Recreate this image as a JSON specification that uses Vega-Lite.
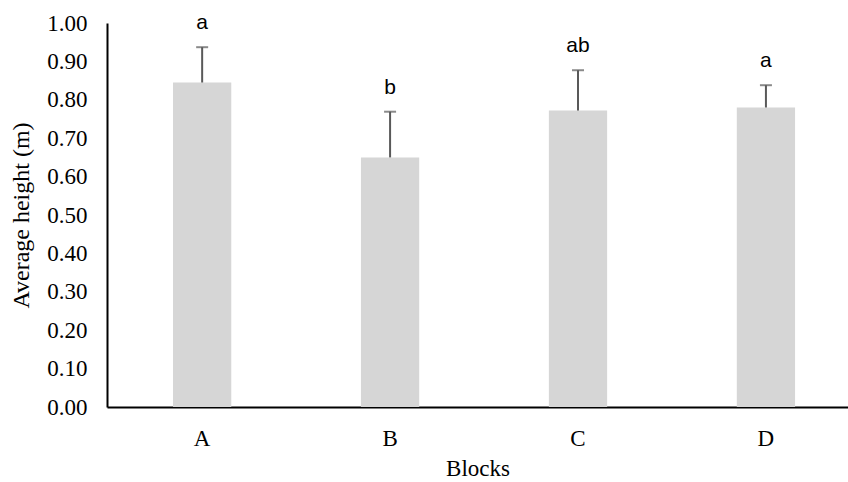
{
  "$schema": "https://vega.github.io/schema/vega-lite/v6.json",
  "autosize": {"type": "none"},
  "padding": {"left": 107, "top": 23, "right": 0, "bottom": 75},
  "width": 741,
  "height": 384,
  "background": "white",
  "config": {
    "view": {"stroke": null},
    "axisY": {
      "grid": false, "ticks": false, "domainColor": "#000000", "domainWidth": 2,
      "labelOverlap": false, "labelFlush": false, "labelBound": false,
      "labelFont": "Liberation Serif", "labelFontSize": 23, "labelColor": "#000000", "labelPadding": 20,
      "titleFont": "Liberation Serif", "titleFontSize": 24, "titleFontWeight": "normal", "titleColor": "#000000", "titlePadding": 13
    }
  },
  "data": {"values": [
    {"block": "A", "height": 0.845, "upper": 0.937, "letter": "a"},
    {"block": "B", "height": 0.650, "upper": 0.769, "letter": "b"},
    {"block": "C", "height": 0.772, "upper": 0.877, "letter": "ab"},
    {"block": "D", "height": 0.780, "upper": 0.838, "letter": "a"}
  ]},
  "encoding": {
    "x": {
      "field": "block", "type": "nominal",
      "scale": {"paddingInner": 0.69, "paddingOuter": 0.3165, "align": 0.555},
      "axis": {
        "title": "Blocks", "labelAngle": 0, "ticks": false, "domainColor": "#000000", "domainWidth": 2,
        "labelFont": "Liberation Serif", "labelFontSize": 23, "labelColor": "#000000", "labelPadding": 20,
        "titleFont": "Liberation Serif", "titleFontSize": 23, "titleFontWeight": "normal", "titleColor": "#000000", "titlePadding": 7
      }
    }
  },
  "layer": [
    {
      "mark": {"type": "bar", "color": "#d6d6d6"},
      "encoding": {
        "y": {
          "field": "height", "type": "quantitative",
          "scale": {"domain": [0, 1], "nice": false},
          "axis": {"title": "Average height (m)", "values": [0, 0.1, 0.2, 0.3, 0.4, 0.5, 0.6, 0.7, 0.8, 0.9, 1.0], "format": ".2f", "labelOverlap": false}
        }
      }
    },
    {
      "mark": {"type": "rule", "color": "#595959", "strokeWidth": 2},
      "encoding": {
        "y": {"field": "height", "type": "quantitative",
          "axis": {"title": "Average height (m)", "values": [0, 0.1, 0.2, 0.3, 0.4, 0.5, 0.6, 0.7, 0.8, 0.9, 1.0], "format": ".2f", "labelOverlap": false}},
        "y2": {"field": "upper"}
      }
    },
    {
      "mark": {"type": "tick", "color": "#595959", "thickness": 2, "size": 12},
      "encoding": {
        "y": {"field": "upper", "type": "quantitative",
          "axis": {"title": "Average height (m)", "values": [0, 0.1, 0.2, 0.3, 0.4, 0.5, 0.6, 0.7, 0.8, 0.9, 1.0], "format": ".2f", "labelOverlap": false}}
      }
    },
    {
      "mark": {"type": "text", "font": "Liberation Sans", "fontSize": 21, "color": "#000000", "baseline": "alphabetic", "dy": -18},
      "encoding": {
        "y": {"field": "upper", "type": "quantitative",
          "axis": {"title": "Average height (m)", "values": [0, 0.1, 0.2, 0.3, 0.4, 0.5, 0.6, 0.7, 0.8, 0.9, 1.0], "format": ".2f", "labelOverlap": false}},
        "text": {"field": "letter"}
      }
    }
  ]
}
